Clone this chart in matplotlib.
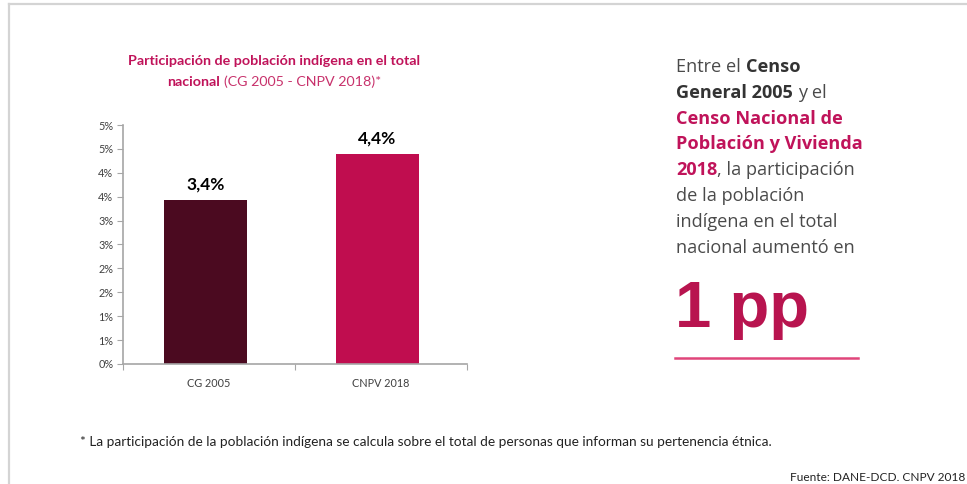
import matplotlib
matplotlib.use("Agg")
import matplotlib.pyplot as plt
from matplotlib.lines import Line2D
import numpy as np

# datos
categorias = ["CG 2005", "CNPV 2018"]
valores = [3.43, 4.39]
etiquetas = ["3,4%", "4,4%"]
colores = ["#4b0a20", "#c00d4f"]
yticks = [0, 0.5, 1.0, 1.5, 2.0, 2.5, 3.0, 3.5, 4.0, 4.5, 5.0]
ytick_labels = ["0%", "1%", "1%", "2%", "2%", "3%", "3%", "4%", "4%", "5%", "5%"]

magenta = "#c0135a"
gris = "#4a4a4a"
oscuro = "#333333"

W, H = 967, 484
fig = plt.figure(figsize=(W / 100, H / 100), dpi=100)
fig.patch.set_facecolor("white")

def fx(px):
    return px / W

def fy(py):
    return 1 - py / H

# marco gris claro
fig.add_artist(Line2D([fx(8.5), fx(8.5)], [fy(3.5), 0], color="#d4d4d4", lw=1.6))
fig.add_artist(Line2D([fx(8.5), 1], [fy(3.5), fy(3.5)], color="#d4d4d4", lw=1.6))

# grafico de barras
ax = fig.add_axes([fx(123), fy(364), fx(467) - fx(123), fy(125) - fy(364)])
x = np.arange(len(categorias))
ax.bar(x - 0.02, valores, width=0.485, color=colores)
for xi, v, lab in zip(x, valores, etiquetas):
    ax.text(xi - 0.02, v + 0.15, lab, ha="center", va="bottom", fontsize=12.5,
            fontweight="bold", family="Lato", color="black")
ax.set_xlim(-0.5, 1.5)
ax.set_ylim(0, 5.0)
ax.set_yticks(yticks)
ax.set_yticklabels(ytick_labels)
ax.set_xticks([-0.5, 0.5, 1.5], minor=False)
ax.set_xticklabels(["", "", ""])
ax.set_xticks(x, minor=True)
ax.set_xticklabels(categorias, minor=True)
ax.tick_params(axis="x", which="minor", length=0, pad=10)
ax.tick_params(axis="x", which="major", length=4, color="#a6a6a6", direction="out")
ax.tick_params(axis="y", length=4, color="#a6a6a6", pad=3)
for lab in ax.get_yticklabels() + ax.get_xticklabels(minor=True):
    lab.set_fontsize(7.8)
    lab.set_family("Lato")
    lab.set_color("#404040")
for s in ["top", "right"]:
    ax.spines[s].set_visible(False)
for s in ["left", "bottom"]:
    ax.spines[s].set_color("#a6a6a6")
    ax.spines[s].set_linewidth(1.2)

renderer = fig.canvas.get_renderer()

def run_line(x0, y0, runs, size, family, ha_center=False):
    # coloca trozos de texto con distinto estilo en una misma linea
    sp = fig.text(0, 0, "a a", fontsize=size, family=family)
    sp2 = fig.text(0, 0, "aa", fontsize=size, family=family)
    gap = sp.get_window_extent(renderer).width - sp2.get_window_extent(renderer).width
    sp.remove()
    sp2.remove()
    arts = []
    xpx = 0
    for txt, weight, color in runs:
        if txt.startswith(" "):
            xpx += gap
        t = fig.text(0, fy(y0), txt.strip(), fontsize=size, family=family,
                     fontweight=weight, color=color, va="baseline")
        arts.append((t, xpx))
        xpx += t.get_window_extent(renderer).width
    start = x0 - xpx / 2 if ha_center else x0
    for t, off in arts:
        t.set_x(fx(start + off))

# titulo
run_line(274, 65, [("Participación de población indígena en el total", "bold", magenta)],
         10.3, "Lato", ha_center=True)
run_line(274, 86, [("nacional", "bold", magenta), (" (CG 2005 - CNPV 2018)*", "normal", "#c8326c")],
         10.3, "Lato", ha_center=True)

# texto lateral
lineas = [
    [("Entre el", "normal", gris), (" Censo", "bold", oscuro)],
    [("General 2005", "bold", oscuro), (" y el", "normal", gris)],
    [("Censo Nacional de", "bold", magenta)],
    [("Población y Vivienda", "bold", magenta)],
    [("2018", "bold", magenta), (", la participación", "normal", gris)],
    [("de la población", "normal", gris)],
    [("indígena en el total", "normal", gris)],
    [("nacional aumentó en", "normal", gris)],
]
for i, runs in enumerate(lineas):
    run_line(676, 72 + i * 25.8, runs, 13.1, "Open Sans")

fig.text(fx(675), fy(327), "1 pp", fontsize=47, fontweight="bold", family="Liberation Sans",
         color="#b8144f", va="baseline")
fig.add_artist(Line2D([fx(675), fx(858)], [fy(358), fy(358)], color="#e0457a", lw=1.8))

# notas
fig.text(fx(80), fy(446), "* La participación de la población indígena se calcula sobre el total de personas que informan su pertenencia étnica.",
         fontsize=9.8, family="Lato", color="#222222", va="baseline")
fig.text(fx(965), fy(481), "Fuente: DANE-DCD. CNPV 2018", fontsize=8.6, family="Lato",
         color="#222222", va="baseline", ha="right")

fig.savefig("out.png", dpi=100)
